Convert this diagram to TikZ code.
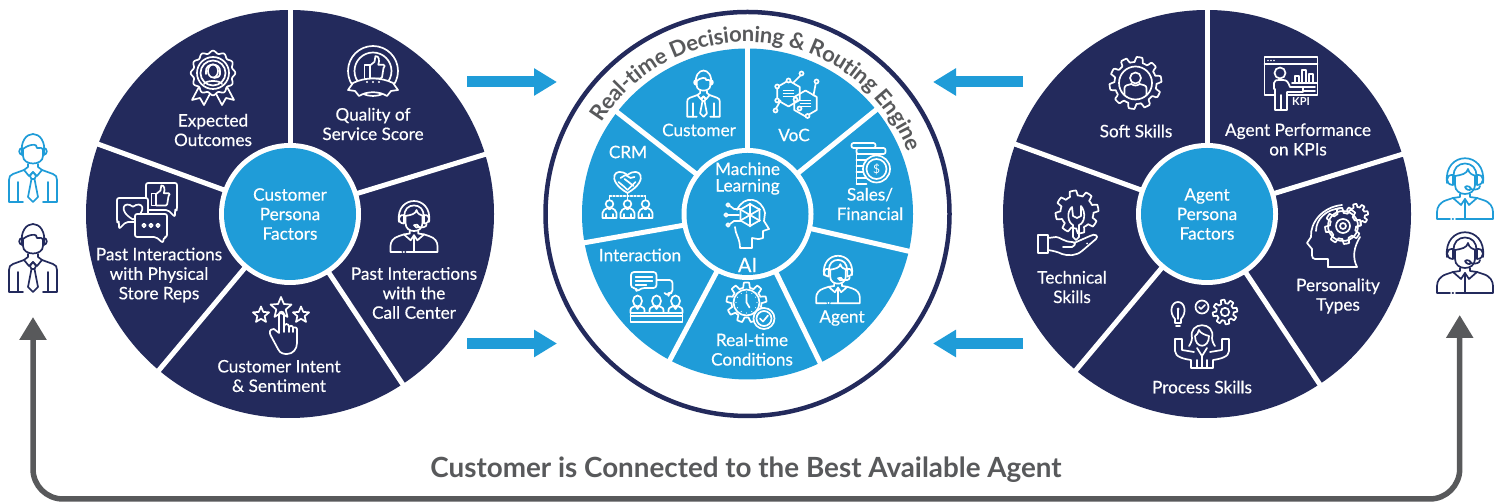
\documentclass[tikz,border=0pt]{standalone}
\usepackage{fontspec}
\setmainfont{Lato}
\newfontfamily\medfont[FakeBold=0.4]{Lato}
\usetikzlibrary{arrows.meta,calc}
\definecolor{navy}{HTML}{232A5C}
\definecolor{skyb}{HTML}{1F9CD8}
\definecolor{greyt}{HTML}{58595B}
\tikzset{
  ic/.style={line width=1.7pt,line cap=round,line join=round},
  lbl/.style={text=white,align=center,inner sep=0pt,font=\medfont\fontsize{17.2}{19.5}\selectfont},
  bluearrow/.style={line width=11pt,draw=skyb,-{Triangle[length=23pt,width=26pt,fill=skyb]}},
  greyarrow/.style={line width=5.5pt,draw=greyt,rounded corners=30pt,{Triangle[length=23pt,width=26pt,fill=greyt]}-{Triangle[length=23pt,width=26pt,fill=greyt]}},
  spoke/.style={line width=5pt,draw=white}
}
\newcommand\arcfont{\bfseries\fontsize{22}{22}\selectfont}
\newlength\chw
\newlength\totw
\newcommand\measure[2]{\pgfinterruptpicture\setbox0=\hbox{\arcfont #2}\global#1=\wd0\relax\endpgfinterruptpicture}
\newcommand\lab[4]{\node[lbl] (#1) at (#2,{502-#3}) {#4};}
\newcommand\ico[5]{\begin{scope}[shift={(#1,{502-#2})},scale=#3,ic,draw=#4]#5\end{scope}}
\newcommand\starp[3]{\draw[shift={(#1,#2)}] (90:#3)--(126:{.45*#3})--(162:#3)--(198:{.45*#3})--(234:#3)--(270:{.45*#3})--(306:#3)--(342:{.45*#3})--(18:#3)--(54:{.45*#3})--cycle;}
\newcommand\gearp[5]{\draw[shift={(#1,#2)}] plot[domain=0:360,samples=145] ({(#3+#4*max(-1,min(1,3*sin(#5*\x))))*cos(\x)},{(#3+#4*max(-1,min(1,3*sin(#5*\x))))*sin(\x)}) -- cycle;}
\newcommand\heartp[3]{\begin{scope}[shift={(#1,#2)},scale=#3]\draw (0,-1) .. controls (-1.9,.1) and (-1,1.3) .. (0,.5) .. controls (1,1.3) and (1.9,.1) .. (0,-1);\end{scope}}
\newcommand\thumbp[3]{\begin{scope}[shift={(#1,#2)},scale=#3]\draw (-1,-1) rectangle (-.45,.4);\draw (-.45,.35) -- (.05,.75) -- (.15,1.35) .. controls (.55,1.4) and (.6,.9) .. (.45,.45) -- (1,.45) .. controls (1.2,.45) and (1.15,.2) .. (1,.1) -- (.85,-.85) -- (.7,-1) -- (-.45,-1);\end{scope}}
% person in a suit, 48 x 71
\newcommand\custbody{
  \draw (-11,12) .. controls (-15,40) and (15,40) .. (11,12);
  \draw (-11,17) .. controls (-5,23) and (5,24) .. (4,19) .. controls (7,20) and (9,19) .. (11,17);
  \draw (-10,17) -- (-10,11) .. controls (-10,1) and (10,1) .. (10,11) -- (10,17);
  \draw (-10.5,19) .. controls (-15,19) and (-15,12) .. (-10,12);
  \draw (10.5,19) .. controls (15,19) and (15,12) .. (10,12);
  \draw (-5,3) -- (-5,0) -- (-9,-3) -- (-4,-9) -- (0,-5) -- (4,-9) -- (9,-3) -- (5,0) -- (5,3);
  \draw (-9,-3) -- (-20,-7) .. controls (-23,-8) and (-24,-10) .. (-24,-13) -- (-24,-35) -- (-10,-35);
  \draw (9,-3) -- (20,-7) .. controls (23,-8) and (24,-10) .. (24,-13) -- (24,-35) -- (10,-35);
  \draw (-15,-15) -- (-15,-35); \draw (15,-15) -- (15,-35);
  \draw (0,-5) -- (-3,-9) -- (-1.5,-12) -- (-5,-30) -- (0,-35) -- (5,-30) -- (1.5,-12) -- (3,-9) -- cycle;
  \draw (-1.5,-12) -- (1.5,-12);
}
% agent with headset, 56 x 62
\newcommand\agentbody{
  \draw (-18,5) .. controls (-22,38) and (22,38) .. (18,5);
  \draw (-11,11) .. controls (-14,29) and (14,29) .. (11,11);
  \draw (-10,12) .. controls (-4,13) and (2,14) .. (3,19) .. controls (4,14) and (8,13) .. (11,12);
  \draw (-10,12) -- (-10,3) .. controls (-10,-9) and (10,-9) .. (10,3) -- (10,12);
  \draw (-12,13) .. controls (-20,14) and (-20,3) .. (-12,3) -- cycle;
  \draw (12,13) .. controls (20,14) and (20,3) .. (12,3) -- cycle;
  \draw (15,2) .. controls (15,-2) and (9,-2) .. (5,-1);
  \draw (0,1) .. controls (2,3) and (6,1) .. (6,-1) .. controls (5,-3) and (1,-2) .. (0,1);
  \draw (-5,-6) -- (-5,-9) -- (-12,-10) -- (-4,-17) -- (0,-11) -- (4,-17) -- (12,-10) -- (5,-9) -- (5,-6);
  \draw (-12,-10) -- (-18,-12) .. controls (-25,-14) and (-28,-19) .. (-28,-24) -- (-28,-31) -- (-15,-31);
  \draw (12,-10) -- (18,-12) .. controls (25,-14) and (28,-19) .. (28,-24) -- (28,-31) -- (-9,-31);
  \draw (-12.5,-31) -- (-11.8,-31);
  \draw (0,-11) -- (0,-31);
}
\begin{document}
\begin{tikzpicture}[x=1pt,y=1pt]
\useasboundingbox (0,0) rectangle (1504,502);
\fill[white] (0,0) rectangle (1504,502);
% ---------- left wheel
\coordinate (lc) at (290,288);
\fill[navy] (lc) circle[radius=204];
\foreach \a in {90,17,-56.5,-130,160} \draw[spoke] (lc) -- ++(\a:210);
\fill[white] (lc) circle[radius=71];
\fill[skyb] (lc) circle[radius=66];
\lab{lhub}{290}{214}{Customer\\Persona\\Factors}
\lab{l1}{213}{130}{Expected\\Outcomes}
\lab{l2}{373}{124}{Quality of\\Service Score}
\lab{l3}{414}{293}{Past Interactions\\with the\\Call Center}
\lab{l4}{279}{376}{Customer Intent\\\& Sentiment}
\lab{l5}{159}{275}{Past Interactions\\with Physical\\Store Reps}
% ---------- right wheel
\coordinate (rc) at (1207,288);
\fill[navy] (rc) circle[radius=204];
\foreach \a in {90,17,-56.5,-130,160} \draw[spoke] (rc) -- ++(\a:210);
\fill[white] (rc) circle[radius=71];
\fill[skyb] (rc) circle[radius=66];
\lab{rhub}{1207}{214}{Agent\\Persona\\Factors}
\lab{r1}{1136}{131}{Soft Skills}
\lab{r2}{1298}{139.5}{Agent Performance\\on KPIs}
\lab{r3}{1338}{296}{Personality\\Types}
\lab{r4}{1202}{387}{Process Skills}
\lab{r5}{1072}{287}{Technical\\Skills}
% ---------- middle wheel
\coordinate (mc) at (747.5,288);
\draw[navy,line width=4.5pt] (mc) circle[radius=202];
\fill[skyb] (mc) circle[radius=165.5];
\foreach \a in {90,39,-13,-64,-118,-170,142} \draw[spoke] (mc) -- ++(\a:172);
\fill[white] (mc) circle[radius=66];
\fill[skyb] (mc) circle[radius=61];
% curved title, letter by letter
\measure{\totw}{Real-time Decisioning \& Routing Engine}
\pgfmathsetmacro\arck{380/(\totw/1pt)}
\gdef\arcpos{0}
\foreach \ch [count=\i] in {R,e,a,l,-,t,i,m,e,{~},D,e,c,i,s,i,o,n,i,n,g,{~},\&,{~},R,o,u,t,i,n,g,{~},E,n,g,i,n,e}{
  \measure{\chw}{\ch}
  \pgfmathsetmacro\arcw{(\chw/1pt)*\arck}
  \pgfmathsetmacro\arcang{148-(\arcpos+\arcw/2)/172*57.29578}
  \pgfmathsetmacro\arcrot{\arcang-90}
  \node[text=greyt,inner sep=0pt,anchor=base,rotate=\arcrot,font=\arcfont] (arc\i) at ($(mc)+(\arcang:172)$) {\ch};
  \pgfmathsetmacro\arcnew{\arcpos+\arcw}
  \xdef\arcpos{\arcnew}
}
\lab{m0}{747.5}{178.5}{Machine\\[-3pt]Learning}
\node[lbl,font=\medfont\fontsize{20}{22}\selectfont] (mai) at (747.5,{502-265}) {AI};
\lab{m1}{699}{130}{Customer}
\lab{m2}{794}{135}{VoC}
\lab{m3}{870}{204}{Sales/\\Financial}
\lab{m4}{842}{318}{Agent}
\lab{m5}{752}{349.5}{Real-time\\Conditions}
\lab{m6}{640}{255}{Interaction}
\lab{m7}{628}{152}{CRM}
% ---------- arrows
\coordinate (a1s) at (467,420); \coordinate (a1e) at (557,420);
\coordinate (a2s) at (467,158.5); \coordinate (a2e) at (557,158.5);
\coordinate (a3s) at (1023,420); \coordinate (a3e) at (933,420);
\coordinate (a4s) at (1023,158.5); \coordinate (a4e) at (933,158.5);
\draw[bluearrow] (a1s) -- (a1e);
\draw[bluearrow] (a2s) -- (a2e);
\draw[bluearrow] (a3s) -- (a3e);
\draw[bluearrow] (a4s) -- (a4e);
\coordinate (gl) at (33,185); \coordinate (gbl) at (33,3);
\coordinate (gbr) at (1459.7,3); \coordinate (gr) at (1459.7,187);
\draw[greyarrow] (gl) -- (gbl) -- (gbr) -- (gr);
\node[text=greyt,inner sep=0pt,font=\bfseries\fontsize{27.8}{30}\selectfont] (bottom) at (746,{502-470}) {Customer is Connected to the Best Available Agent};
% ---------- people at the sides
\ico{33}{167}{1}{skyb}{\custbody}
\ico{33}{257}{1}{navy}{\custbody}
\ico{1465}{188}{1}{skyb}{\agentbody}
\ico{1465}{262}{1}{navy}{\agentbody}
% ---------- left wheel icons
\ico{213}{73}{1}{white}{
  \draw[fill=navy] (-12,-10) -- (-21,-27) -- (-13,-25) -- (-9,-32) -- (-1,-17);
  \draw[fill=navy] (12,-10) -- (21,-27) -- (13,-25) -- (9,-32) -- (1,-17);
  \draw[fill=navy] plot[domain=0:360,samples=121,smooth] ({(21+1.3*cos(12*\x))*cos(\x)},{(21+1.3*cos(12*\x))*sin(\x)}) -- cycle;
  \draw (0,0) circle[radius=16]; \draw (0,0) circle[radius=12.5];
  \draw (-7,1) .. controls (-8,11) and (8,11) .. (7,1);
  \draw (0,2) ellipse[x radius=5,y radius=6.5];
  \draw (-7,-1) -- (-7,2); \draw (7,-1) -- (7,2);
  \draw (7,-1) .. controls (7,-4) and (3,-5) .. (1,-5);
  \draw (-9,-11) .. controls (-7,-7) and (7,-7) .. (9,-11);
}
\ico{373}{71}{1}{white}{
  \draw (0,0) circle[radius=25];
  \draw (0,0) circle[radius=18.5];
  \thumbp{1}{2}{9.5}
  \draw[fill=navy] (-20,-12) .. controls (-8,-6) and (8,-6) .. (20,-12) -- (25,-19) -- (18,-20) -- (14,-25) .. controls (6,-20) and (-6,-20) .. (-14,-25) -- (-18,-20) -- (-25,-19) -- cycle;
  \foreach \p in {-6,0,6} \fill[white] (\p,-11) circle[radius=1.2];
}
\ico{147}{213}{1}{white}{
  \draw[rounded corners=2pt,fill=navy] (-1,30) -- (30,30) -- (30,3) -- (28,3) -- (28,-4) -- (21,3) -- (-1,3) -- cycle;
  \thumbp{13}{16}{8.5}
  \draw[rounded corners=2pt,fill=navy] (-30,15) -- (1,15) -- (1,-9) -- (-21,-9) -- (-28,-16) -- (-28,-9) -- (-30,-9) -- cycle;
  \heartp{-14}{2}{8.5}
  \draw[rounded corners=2pt,fill=navy] (-12,-1) -- (20,-1) -- (20,-24) -- (17,-24) -- (16,-30) -- (9,-24) -- (-12,-24) -- cycle;
  \foreach \p in {-3,4,11} \draw (\p,-12.5) circle[radius=1.8];
}
\ico{281}{326}{1}{white}{
  \starp{0}{18}{11}
  \starp{-20}{11}{8.5}
  \starp{20}{11}{8.5}
  \draw[fill=navy] (-2,12) -- (-2,-7) -- (-7,-3) .. controls (-12,-3) and (-12,-7) .. (-10,-10) -- (-3,-23) .. controls (-1,-28) and (4,-28) .. (6,-28) .. controls (12,-28) and (16,-23) .. (16,-17) -- (16,-3) .. controls (16,-1) and (12,-1) .. (12,-2) -- (12,-6);
  \draw (12,-2) .. controls (12,1) and (8,1) .. (8,-2) -- (8,-6);
  \draw (8,-1) .. controls (8,3) and (3,3) .. (3,-1) -- (3,-6);
  \draw (3,-1) -- (3,12) .. controls (3,15) and (-2,15) .. (-2,12);
}
\ico{414}{226}{.84}{white}{\agentbody}
% ---------- right wheel icons
\ico{1135.5}{83}{1}{white}{
  \gearp{0}{0}{23.5}{2.5}{10}
  \draw (0,0) circle[radius=16.5];
  \draw (0,5) circle[radius=5.5];
  \draw (-11,-12) -- (-11,-5) .. controls (-11,-2) and (-7,-2) .. (-4,-1) .. controls (-2,-3) and (2,-3) .. (4,-1) .. controls (7,-2) and (11,-2) .. (11,-5) -- (11,-12);
}
\ico{1291}{83}{1}{white}{
  \draw (-26.5,26) rectangle (26.5,-12);
  \draw (-26.5,19) -- (26.5,19);
  \foreach \p in {-23,-20,-17} \fill[white] (\p,22.5) circle[radius=.9];
  \foreach \b/\h in {4/3,11/9,18/5} \draw (\b,0) rectangle ++(4,\h+4);
  \draw (1,0) -- (26,0);
  \foreach \b in {-4,-8} {\draw (12,\b) -- (24,\b);}
  \draw[fill=navy] (-11,10) circle[radius=5.5];
  \draw[fill=navy] (-17,-6) -- (-17,0) .. controls (-17,3) and (-14,3) .. (-12,3) -- (-8,3) .. controls (-4,3) and (-3,1) .. (-1,-4) -- (12,-4) -- (12,-9) -- (-4,-9) -- (-4,-27) -- (-16,-27) -- (-16,-6) ;
  \draw (-10,-27) -- (-10,-12);
  \node[text=white,inner sep=0pt,font=\bfseries\fontsize{11}{11}\selectfont] (kpi) at (10,-19) {KPI};
}
\ico{1336}{235}{1}{white}{
  \draw (-8,-32) -- (-8,-24) -- (-21,-24) .. controls (-25,-24) and (-24,-18) .. (-24,-14) -- (-29,-8) -- (-25,-2) .. controls (-26,12) and (-14,28) .. (6,30);
  \draw (-20,4) .. controls (-20,16) and (-10,26) .. (6,27);
  \draw (21,-32) .. controls (16,-22) and (18,-12) .. (24,-2);
  \draw (-8,-32) -- (21,-32);
  \gearp{21}{20}{9.5}{1.6}{8}
  \draw[fill=navy] (7,9) circle[radius=15];
  \gearp{7}{9}{15.5}{2.5}{8}
  \draw (7,9) circle[radius=7]; \draw (7,9) circle[radius=3];
}
\ico{1202}{335}{1}{white}{
  \draw (-27,16) .. controls (-33,22) and (-31,33) .. (-24,33) .. controls (-17,33) and (-15,22) .. (-21,16) -- (-21,12) -- (-27,12) -- cycle;
  \draw (-24,16) -- (-24,26); \fill[white] (-24,26) circle[radius=1.5];
  \draw (-26,9) -- (-22,9);
  \draw (0,28) circle[radius=6.5];
  \draw (-3,28) -- (-1,26) -- (3,30);
  \gearp{23}{23}{10.5}{1.8}{8}
  \draw (23,23) circle[radius=4.2];
  \draw (-10,-3) .. controls (-14,14) and (14,14) .. (10,-3) .. controls (10,-6) and (12,-10) .. (13,-11);
  \draw (-10,-3) .. controls (-10,-6) and (-12,-10) .. (-13,-11);
  \draw (-7,-1) .. controls (-7,-14) and (7,-14) .. (7,-1) .. controls (3,0) and (-2,2) .. (-3,5) .. controls (-4,2) and (-5,0) .. (-7,-1);
  \draw (-27,-4) -- (-27,-16) .. controls (-27,-22) and (-18,-24) .. (-11,-25) -- (-11,-33) -- (11,-33) -- (11,-25) .. controls (18,-24) and (27,-22) .. (27,-16) -- (27,-4) -- (20,-4) -- (20,-15) -- (8,-17);
  \draw (-27,-4) -- (-20,-4) -- (-20,-15) -- (-8,-17);
  \draw (-5,-13) -- (0,-21) -- (5,-13); \draw (0,-21) -- (0,-33);
  \draw (-5,-25) -- (-5,-33); \draw (5,-25) -- (5,-33);
}
\ico{1068}{224}{1}{white}{
  \gearp{9}{12}{19}{2.5}{8}
  \draw (4,17) .. controls (-2,12) and (0,1) .. (5,-1) -- (5,-13) -- (8,-16) -- (11,-13) -- (11,-1) .. controls (17,1) and (18,12) .. (13,18) -- (13,8) -- (9,6) -- (5,8) -- cycle;
  \draw[fill=navy] (-30,-11) rectangle (-20,-29);
  \draw[fill=navy] (-20,-14) -- (-12,-13) .. controls (-8,-13) and (-4,-18) .. (4,-18) .. controls (8,-18) and (8,-21) .. (4,-23) -- (-5,-23);
  \draw (6,-19) -- (22,-12) .. controls (27,-9) and (31,-12) .. (28,-15) -- (14,-27) .. controls (8,-32) and (0,-32) .. (-6,-30) .. controls (-10,-28) and (-14,-27) .. (-20,-26);
  \fill[white] (19,-19.5) circle[radius=1];
}
% ---------- middle wheel icons
\ico{703.5}{93}{.68}{white}{\custbody}
\ico{795.5}{94.5}{1}{white}{
  \foreach \c/\d in {-7/1,10/-9} {\draw[shift={(\c,\d)}] (30:13)--(90:13)--(150:13)--(210:13)--(270:13)--(330:13)--cycle;}
  \draw (-2,12) -- (6,20); \draw (-18,9) -- (-18,-4);
  \draw (-15,-6) -- (-20,-15); \draw (18,-1) -- (20,10);
  \foreach \x/\y in {6/21,-20/-16,21/13,12/-21.5,0/-5,-7/14,-18.3/-6,-18.3/8,4/-14} \draw[fill=skyb] (\x,\y) circle[radius=2];
  \foreach \c/\d in {-7/1,10/-9} {\foreach \r in {-3,0,3} {\draw[line width=1.3pt,shift={(\c,\d)}] (-5,\r) -- (5,\r);}}
}
\ico{870.5}{163}{1}{white}{
  \draw[rounded corners=2pt] (-19,20) rectangle (5,15);
  \draw[rounded corners=2pt] (-14,15) rectangle (15,9);
  \foreach \y in {9,3,-3,-9,-15} {\draw (-14,\y) -- (-4,\y);\draw (-14,\y-6) -- (-4,\y-6);\draw (-14,\y) -- (-14,\y-6);}
  \draw[fill=skyb] (6,-6) circle[radius=13.5];
  \draw (6,-6) circle[radius=10];
  \node[text=white,inner sep=0pt,font=\fontsize{12}{12}\selectfont] (dollar) at (6,-6) {\$};
}
\ico{838}{279}{.78}{white}{\agentbody}
\ico{751.5}{307.5}{1}{white}{
  \gearp{-5}{5}{17.5}{2.5}{9}
  \draw (-5,5) circle[radius=13];
  \draw (-5,13) -- (-5,5) -- (-2,0);
  \foreach \a in {0,30,...,330} \fill[white,shift={(-5,5)}] (\a:10.5) circle[radius=.6];
  \draw[fill=skyb] (12.5,-11) circle[radius=10.5];
  \draw (12.5,-11) circle[radius=7.5];
  \draw (8.5,-11) -- (11.5,-14) -- (16.5,-8);
}
\ico{656.5}{297}{1}{white}{
  \draw[rounded corners=3pt] (-2,17) -- (16,17) -- (16,4) -- (12,4) -- (12,1) -- (8,4);
  \draw[rounded corners=3pt,fill=skyb] (-25.5,25) -- (0,25) -- (0,9) -- (-15,9) -- (-20,5) -- (-20,9) -- (-25.5,9) -- cycle;
  \foreach \y/\w in {20/-4,16/-4,12/-10} \draw[line width=1.2pt] (-21,\y) -- (\w,\y);
  \foreach \x in {-19,0,19} {
    \draw[fill=skyb] (\x,-4) ellipse[x radius=4.5,y radius=5.5];
    \draw (\x-7,-16) -- (\x-7,-13) .. controls (\x-7,-10) and (\x-3,-10) .. (\x-2,-9) -- (\x,-12) -- (\x+2,-9) .. controls (\x+3,-10) and (\x+7,-10) .. (\x+7,-13) -- (\x+7,-16);
  }
  \draw[fill=skyb] (-26,-16) rectangle (26,-25);
  \draw (-26,-19) -- (26,-19);
}
\ico{627.5}{193}{1}{white}{
  \heartp{0}{12}{12}
  \draw (-7,15) -- (-2,18) -- (3,15) -- (7,16); \draw (-9,11) -- (-3,6) -- (0,3) -- (3,6) -- (8,11);
  \draw (-3,14) -- (1,11) -- (6,7);
  \draw (0,0) -- (0,-7);
  \draw[line width=1.3pt,dash pattern=on 2pt off 1.5pt] (-18,-3) -- (18,-3);
  \foreach \x in {-18,0,18} {
    \draw (\x,-3) -- (\x,-7);
    \draw (\x,-11) circle[radius=3.8];
    \draw (\x-7,-25) -- (\x-7,-20) .. controls (\x-7,-17) and (\x-4,-16) .. (\x-2,-15) .. controls (\x-1,-17) and (\x+1,-17) .. (\x+2,-15) .. controls (\x+4,-16) and (\x+7,-17) .. (\x+7,-20) -- (\x+7,-25) -- cycle;
    \draw (\x-3.5,-25) -- (\x-3.5,-21); \draw (\x+3.5,-25) -- (\x+3.5,-21);
  }
}
\ico{748}{224}{1}{white}{
  \draw (-11,14) .. controls (-4,30) and (14,26) .. (17,11) .. controls (17,8) and (16,6) .. (16,3) -- (21,-5) -- (15,-7) -- (15,-14) .. controls (12,-16) and (10,-15) .. (4,-14) -- (4,-24) -- (-8,-24) .. controls (-8,-14) and (-13,-10) .. (-13,-3);
  \draw[shift={(2,9)}] (30:11)--(90:11)--(150:11)--(210:11)--(270:11)--(330:11)--cycle;
  \foreach \a in {30,90,...,330} {\draw[shift={(2,9)}] (0,0) -- (\a:11); \fill[white,shift={(2,9)}] (\a:11) circle[radius=1.4];}
  \draw (-8,15) -- (-14,15) -- (-18,18); \draw (-9,9) -- (-20,9); \draw (-8,3) -- (-14,3) -- (-18,0);
  \foreach \x/\y in {-20/19,-22/9,-20/-1} \draw[fill=skyb] (\x,\y) circle[radius=1.8];
}
\end{tikzpicture}
\end{document}
